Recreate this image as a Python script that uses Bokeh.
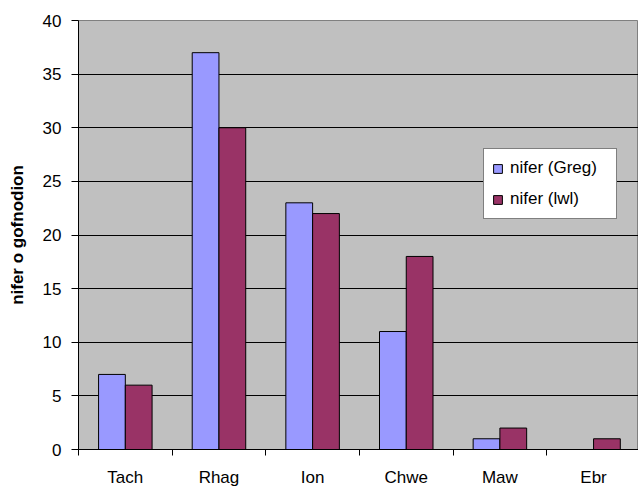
from bokeh.plotting import figure
from bokeh.models import Range1d, FixedTicker, Legend, LegendItem, ColumnDataSource
from bokeh.embed import file_html
from bokeh.resources import INLINE

# Monthly record counts
months = ["Tach", "Rhag", "Ion", "Chwe", "Maw", "Ebr"]
greg = [7, 37, 23, 11, 1, 0]
lwl = [6, 30, 22, 18, 2, 1]
y_ticks = [0, 5, 10, 15, 20, 25, 30, 35, 40]

FONT = "Liberation Sans"
n = len(months)
bar_w = 1 / 3.5  # two bars plus a 150% gap per category
idx = list(range(n))

src = ColumnDataSource(dict(
    x_greg=[i + 0.5 - bar_w / 2 for i in idx],
    x_lwl=[i + 0.5 + bar_w / 2 for i in idx],
    greg=greg,
    lwl=lwl,
))

p = figure(
    width=638, height=489,
    x_range=Range1d(0, n - 0.02), y_range=Range1d(0, 40),
    output_backend="svg", toolbar_location=None,
    min_border_left=78, min_border_top=20, min_border_bottom=39, min_border_right=0,
)
p.background_fill_color = "#C0C0C0"
p.border_fill_color = "white"
p.outline_line_color = "#808080"

r1 = p.vbar(x="x_greg", top="greg", width=bar_w, source=src,
            fill_color="#9999FF", line_color="black", line_width=1)
r2 = p.vbar(x="x_lwl", top="lwl", width=bar_w, source=src,
            fill_color="#993366", line_color="black", line_width=1)

# x axis: labels at category centres, tick marks on category boundaries
xa = p.xaxis[0]
xa.ticker = FixedTicker(ticks=[i + 0.5 for i in idx], minor_ticks=list(range(n + 1)))
xa.major_label_overrides = {i + 0.5: m for i, m in zip(idx, months)}
xa.major_tick_line_color = None
xa.major_tick_out = 0
xa.major_tick_in = 0
xa.minor_tick_out = 6
xa.minor_tick_in = 0
xa.minor_tick_line_color = "black"
xa.axis_line_color = "black"
xa.major_label_text_font = FONT
xa.major_label_text_font_size = "17px"
xa.major_label_text_color = "black"
xa.major_label_text_line_height = 0.9
xa.major_label_standoff = 12

ya = p.yaxis[0]
ya.ticker = FixedTicker(ticks=y_ticks)
ya.minor_tick_line_color = None
ya.major_tick_out = 7
ya.major_tick_in = 0
ya.axis_line_color = "black"
ya.major_label_text_font = FONT
ya.major_label_text_font_size = "17px"
ya.major_label_text_color = "black"
ya.major_label_standoff = 10
ya.axis_label = "nifer o gofnodion"
ya.axis_label_text_font = FONT
ya.axis_label_text_font_size = "17px"
ya.axis_label_text_font_style = "bold"
ya.axis_label_text_color = "black"
ya.axis_label_standoff = 13

p.xgrid.grid_line_color = None
p.ygrid.ticker = FixedTicker(ticks=y_ticks[1:-1])
p.ygrid.grid_line_color = "black"
p.ygrid.grid_line_width = 1

legend = Legend(
    items=[LegendItem(label="nifer (Greg)", renderers=[r1]),
           LegendItem(label="nifer (lwl)", renderers=[r2])],
    location=(405, 230),
    orientation="vertical",
    label_text_font=FONT, label_text_font_size="17px", label_text_color="black",
    glyph_width=11, glyph_height=11, label_height=22, label_width=98, label_standoff=7,
    padding=8, spacing=9, margin=0,
    border_line_color="black", border_line_width=1,
    background_fill_color="white", background_fill_alpha=1,
)
p.add_layout(legend)

open("out.html", "w").write(file_html(p, INLINE))
